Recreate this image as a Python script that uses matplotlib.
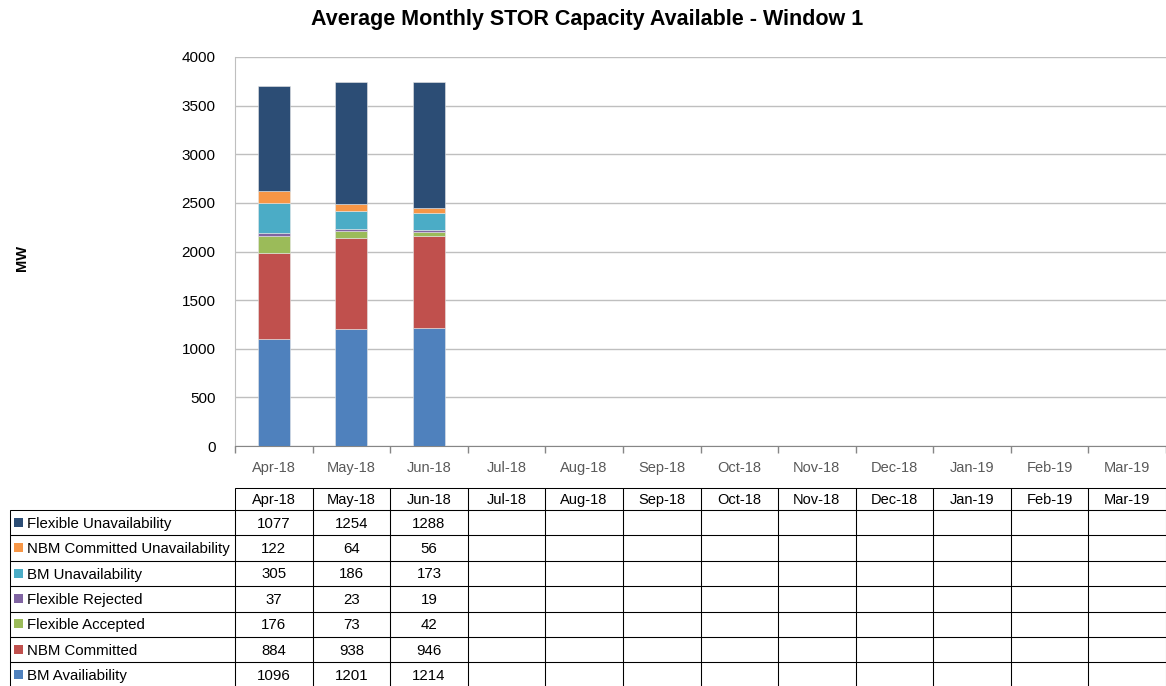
import matplotlib
matplotlib.use("Agg")
import matplotlib.pyplot as plt
import numpy as np
from matplotlib.patches import Rectangle

months = ["Apr-18", "May-18", "Jun-18", "Jul-18", "Aug-18", "Sep-18",
          "Oct-18", "Nov-18", "Dec-18", "Jan-19", "Feb-19", "Mar-19"]

# series (bottom to top stacking order)
bm_availability = [1096, 1201, 1214]
nbm_committed = [884, 938, 946]
flexible_accepted = [176, 73, 42]
flexible_rejected = [37, 23, 19]
bm_unavailability = [305, 186, 173]
nbm_committed_unavail = [122, 64, 56]
flexible_unavailability = [1077, 1254, 1288]

stack_names = ["BM Availiability", "NBM Committed", "Flexible Accepted",
               "Flexible Rejected", "BM Unavailability",
               "NBM Committed Unavailability", "Flexible Unavailability"]
stack_values = [bm_availability, nbm_committed, flexible_accepted,
                flexible_rejected, bm_unavailability, nbm_committed_unavail,
                flexible_unavailability]
stack_colors = ["#4F81BD", "#C0504D", "#9BBB59", "#8064A2", "#4BACC6",
                "#F79646", "#2C4D75"]

plt.rcParams['font.family'] = ['Liberation Sans', 'DejaVu Sans']

W, H = 1166, 686
fig = plt.figure(figsize=(W / 100, H / 100), dpi=100)

# plot area in pixels
px0, px1 = 235, 1166
py_top, py_bot = 57, 446
ax = fig.add_axes([px0 / W, 1 - py_bot / H, (px1 - px0) / W, (py_bot - py_top) / H])

n = len(months)
x = np.arange(n)
bottom = np.zeros(len(bm_availability))
for name, vals, col in zip(stack_names, stack_values, stack_colors):
    v = np.array(vals, dtype=float)
    ax.bar(x[:len(v)], v, bottom=bottom, width=0.41, color=col,
           edgecolor="#E6E6E6", linewidth=0.4, zorder=3)
    bottom += v

ax.set_xlim(-0.5, n - 0.5)
ax.set_ylim(0, 4000)
ax.set_yticks(np.arange(0, 4001, 500))
ax.tick_params(axis='y', length=0, labelsize=11, pad=14, colors="black")
ax.yaxis.grid(True, color="#BFBFBF", linewidth=1, zorder=0)
ax.set_xticks(x)
ax.set_xticklabels(months)
ax.tick_params(axis='x', length=0, labelsize=10.5, labelcolor="#595959", pad=11)
ax.set_xticks(np.arange(-0.5, n, 1), minor=True)
ax.tick_params(axis='x', which='minor', length=5, color="#868686", width=1)
for s in ["top", "right"]:
    ax.spines[s].set_visible(False)
ax.spines["left"].set_color("#BFBFBF")
ax.spines["bottom"].set_color("#868686")
ax.set_axisbelow(True)

fig.text(587 / W, 1 - 20 / H, "Average Monthly STOR Capacity Available - Window 1",
         ha="center", va="center", fontsize=15.5, fontweight="bold")
fig.text(22 / W, 1 - 258 / H, "MW", rotation=90, ha="center", va="center",
         fontsize=10.5, fontweight="bold")

# data table drawn in pixel coordinates
tax = fig.add_axes([0, 0, 1, 1])
tax.set_xlim(0, W)
tax.set_ylim(H, 0)
tax.axis("off")

col_w = (px1 - px0) / n
label_x0 = 10
head_top, head_bot = 488, 510
row_h = 25.4
table_rows = list(reversed(list(zip(stack_names, stack_values, stack_colors))))
lc = "black"
lw = 0.75

# header row
for i, m in enumerate(months):
    cx0 = px0 + i * col_w
    tax.add_patch(Rectangle((cx0, head_top), col_w, head_bot - head_top,
                            fill=False, edgecolor=lc, linewidth=lw))
    tax.text(cx0 + col_w / 2, (head_top + head_bot) / 2 + 1, m, ha="center",
             va="center", fontsize=10.5)

for r, (name, vals, col) in enumerate(table_rows):
    y0 = head_bot + r * row_h
    tax.add_patch(Rectangle((label_x0, y0), px0 - label_x0, row_h,
                            fill=False, edgecolor=lc, linewidth=lw))
    tax.add_patch(Rectangle((14, y0 + row_h / 2 - 5), 9, 9, facecolor=col,
                            edgecolor="none"))
    tax.text(27, y0 + row_h / 2 + 1, name, ha="left", va="center", fontsize=10.8)
    for i in range(n):
        cx0 = px0 + i * col_w
        tax.add_patch(Rectangle((cx0, y0), col_w, row_h, fill=False,
                                edgecolor=lc, linewidth=lw))
        if i < len(vals):
            tax.text(cx0 + col_w / 2, y0 + row_h / 2 + 1, str(vals[i]),
                     ha="center", va="center", fontsize=10.8)

fig.savefig("out.png", dpi=100, facecolor="white")
